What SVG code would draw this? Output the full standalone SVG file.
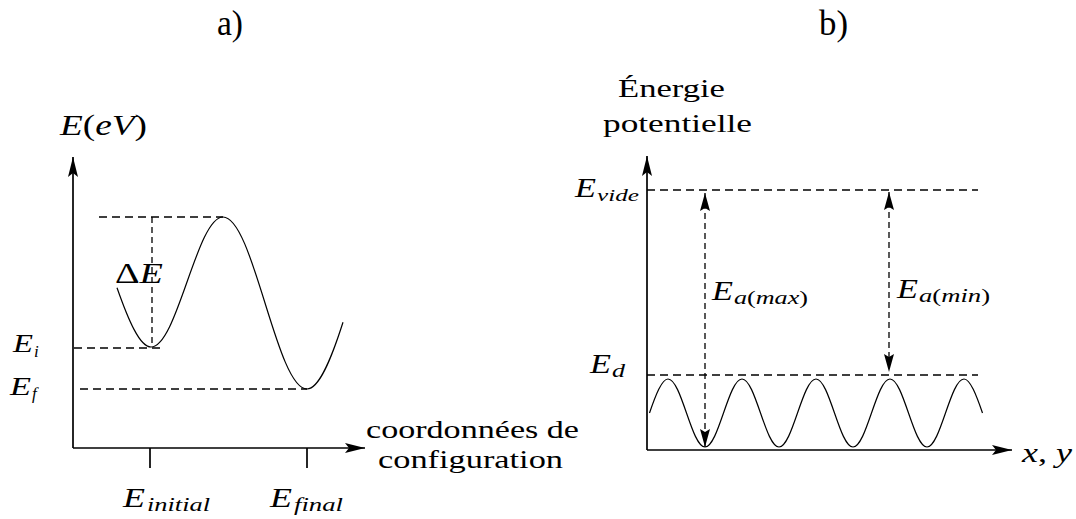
<svg xmlns="http://www.w3.org/2000/svg" width="1076" height="519" viewBox="0 0 1076 519">
<style>
.bg{fill:#fff}
.axis{stroke:#000;stroke-width:1.7;fill:none}
.dash{stroke:#000;stroke-width:1.3;fill:none;stroke-dasharray:8 5}
.vdash{stroke:#000;stroke-width:1.3;fill:none;stroke-dasharray:6 4}
.curve{stroke:#000;stroke-width:1.2;fill:none}
.rm{font-family:"Liberation Serif","DejaVu Serif",serif;fill:#000}
.it{font-family:"Liberation Serif","DejaVu Serif",serif;font-style:italic;fill:#000}
</style>
<defs>
<marker id="axhead" markerUnits="userSpaceOnUse" markerWidth="20" markerHeight="10" refX="20" refY="5" orient="auto"><path d="M0,0 L20,5 L0,10 L4,5 z" fill="#000"/></marker>
<marker id="dhead" markerUnits="userSpaceOnUse" markerWidth="18" markerHeight="10" refX="18" refY="5" orient="auto-start-reverse"><path d="M0,0 L18,5 L0,10 L3,5 z" fill="#000"/></marker>
</defs>
<rect class="bg" x="0" y="0" width="1076" height="519"/>

<g id="titles">
<text class="rm" x="217" y="35" font-size="35" textLength="26" lengthAdjust="spacingAndGlyphs">a)</text>
<text class="rm" x="819" y="35" font-size="35" textLength="29" lengthAdjust="spacingAndGlyphs">b)</text>
</g>

<g id="panel-a">
<g id="connectors-a">
<line class="axis" x1="73" y1="448" x2="73" y2="157" marker-end="url(#axhead)"/>
<line class="axis" x1="73" y1="448" x2="365" y2="448" marker-end="url(#axhead)"/>
<line class="axis" x1="150" y1="448" x2="150" y2="468"/>
<line class="axis" x1="307" y1="448" x2="307" y2="468"/>
<line class="dash" x1="99" y1="217" x2="223" y2="217"/>
<line class="dash" x1="74" y1="348" x2="163" y2="348"/>
<line class="dash" x1="80" y1="389" x2="307" y2="389"/>
<line class="vdash" x1="152" y1="217" x2="152" y2="347"/>
</g>
<path id="energy-curve" class="curve" d="M117,287.7 C128.3,319.8 139.7,347 151,347 C177.2,347 196.8,217 223,217 C253.6,217 276.4,389 307,389 C319,389 331,359.8 343,322.2"/>
<g id="labels-a">
<text class="it" x="60" y="135" font-size="29" textLength="87" lengthAdjust="spacingAndGlyphs">E<tspan font-style="normal">(</tspan>eV<tspan font-style="normal">)</tspan></text>
<text class="it" x="115" y="283" font-size="29" textLength="48" lengthAdjust="spacingAndGlyphs"><tspan font-style="normal">Δ</tspan>E</text>
<text class="it" x="13" y="352" font-size="25" textLength="20" lengthAdjust="spacingAndGlyphs">E</text>
<text class="it" x="34" y="357" font-size="17">i</text>
<text class="it" x="10" y="395" font-size="25" textLength="21" lengthAdjust="spacingAndGlyphs">E</text>
<text class="it" x="32" y="399" font-size="17">f</text>
<text class="it" x="123" y="507" font-size="28" textLength="22" lengthAdjust="spacingAndGlyphs">E</text>
<text class="it" x="147" y="511" font-size="19" textLength="63" lengthAdjust="spacingAndGlyphs">initial</text>
<text class="it" x="270" y="507" font-size="28" textLength="22" lengthAdjust="spacingAndGlyphs">E</text>
<text class="it" x="294" y="511" font-size="19" textLength="49" lengthAdjust="spacingAndGlyphs">final</text>
<text class="rm" x="366" y="438" font-size="25" textLength="213" lengthAdjust="spacingAndGlyphs">coordonnées de</text>
<text class="rm" x="378" y="468" font-size="25" textLength="185" lengthAdjust="spacingAndGlyphs">configuration</text>
</g>
</g>

<g id="panel-b">
<g id="connectors-b">
<line class="axis" x1="647" y1="450" x2="647" y2="156" marker-end="url(#axhead)"/>
<line class="axis" x1="647" y1="450" x2="1012" y2="450" marker-end="url(#axhead)"/>
<line class="dash" x1="647" y1="190" x2="978" y2="190"/>
<line class="dash" x1="647" y1="375" x2="978" y2="375"/>
<line class="vdash" x1="705" y1="193" x2="705" y2="447" marker-start="url(#dhead)" marker-end="url(#dhead)"/>
<line class="vdash" x1="889" y1="192" x2="889" y2="372" marker-start="url(#dhead)" marker-end="url(#dhead)"/>
</g>
<path id="potential-wave" class="curve" d="M649.5,413 C655.67,395.2 661.83,379 668,379 c13.48,0 23.52,68 37,68 c13.48,0 23.52,-68 37,-68 c13.48,0 23.52,68 37,68 c13.48,0 23.52,-68 37,-68 c13.48,0 23.52,68 37,68 c13.480,0 23.52,-68 37,-68 c13.48,0 23.52,68 37,68 c13.48,0 23.52,-68 37,-68 C970.17,379 976.33,395.2 982.5,413"/>
<g id="labels-b">
<text class="rm" x="618" y="97" font-size="25" textLength="107" lengthAdjust="spacingAndGlyphs">Énergie</text>
<text class="rm" x="603" y="132" font-size="25" textLength="149" lengthAdjust="spacingAndGlyphs">potentielle</text>
<text class="it" x="575" y="197" font-size="27" textLength="21" lengthAdjust="spacingAndGlyphs">E</text>
<text class="it" x="597" y="201" font-size="17" textLength="42" lengthAdjust="spacingAndGlyphs">vide</text>
<text class="it" x="590" y="373" font-size="27" textLength="21" lengthAdjust="spacingAndGlyphs">E</text>
<text class="it" x="612" y="377" font-size="18" textLength="13" lengthAdjust="spacingAndGlyphs">d</text>
<text class="it" x="712" y="300" font-size="27" textLength="21" lengthAdjust="spacingAndGlyphs">E</text>
<text class="it" x="734" y="304" font-size="18" textLength="74" lengthAdjust="spacingAndGlyphs">a<tspan font-style="normal">(</tspan>max<tspan font-style="normal">)</tspan></text>
<text class="it" x="897" y="298" font-size="27" textLength="21" lengthAdjust="spacingAndGlyphs">E</text>
<text class="it" x="919" y="302" font-size="18" textLength="71" lengthAdjust="spacingAndGlyphs">a<tspan font-style="normal">(</tspan>min<tspan font-style="normal">)</tspan></text>
<text class="it" x="1022" y="462" font-size="28" textLength="50" lengthAdjust="spacingAndGlyphs">x<tspan font-style="normal">, </tspan>y</text>
</g>
</g>
</svg>
